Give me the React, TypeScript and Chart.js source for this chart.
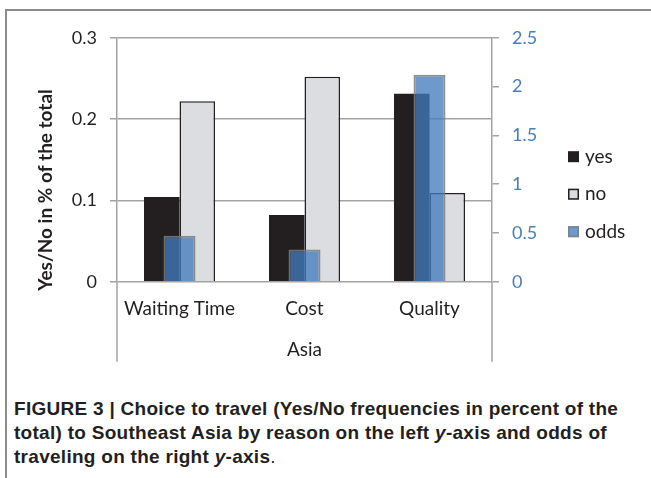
import { useEffect, useRef } from 'react';
import { Chart, registerables } from 'chart.js';

Chart.register(...registerables);

// Reasons for travelling to Southeast Asia
const categories = ['Waiting Time', 'Cost', 'Quality'];
const groupLabel = 'Asia';
// Yes/No frequencies as share of the total (left axis)
const yesShare = [0.104, 0.082, 0.231];
const noShare = [0.222, 0.252, 0.109];
// Odds of travelling (right axis)
const oddsValues = [0.47, 0.33, 2.12];
const leftTicks = [0, 0.1, 0.2, 0.3];
const rightTicks = [0, 0.5, 1, 1.5, 2, 2.5];
const seriesNames = ['yes', 'no', 'odds'];
const yTitle = 'Yes/No in % of the total';
const captionLines = [
  'FIGURE 3 | Choice to travel (Yes/No frequencies in percent of the',
  'total) to Southeast Asia by reason on the left ',
  'traveling on the right ',
];

const FONT = "Lato, 'Open Sans', sans-serif";
const GRID = '#a3a3a3';
const TEXT = '#231f20';
const BLUE_TEXT = '#4a7ebb';

const fmt = (v: number | string) => String(+(+v).toFixed(1));

// Legend, axis title, group label and the long outer axis lines
const decorations = {
  id: 'decorations',
  afterDraw(chart: any) {
    const { ctx, chartArea } = chart;
    const { left, right, top, bottom } = chartArea;
    ctx.save();

    // outer axis lines running down past the category labels
    ctx.strokeStyle = GRID;
    ctx.lineWidth = 1.5;
    ctx.beginPath();
    ctx.moveTo(left, bottom);
    ctx.lineTo(left, bottom + 80);
    ctx.moveTo(right, bottom);
    ctx.lineTo(right, bottom + 80);
    ctx.stroke();

    // group label
    ctx.fillStyle = TEXT;
    ctx.font = `19px ${FONT}`;
    ctx.textAlign = 'center';
    ctx.textBaseline = 'middle';
    ctx.fillText(groupLabel, (left + right) / 2, bottom + 68);

    // rotated left axis title
    ctx.save();
    ctx.translate(46, 190);
    ctx.rotate(-Math.PI / 2);
    ctx.font = `bold 19px ${FONT}`;
    ctx.fillText(yTitle, 0, 0);
    ctx.restore();

    // legend
    const lx = right + 76;
    const ly0 = top + 119;
    chart.data.datasets.forEach((ds: any, i: number) => {
      const cy = ly0 + i * 37.5;
      const s = 11;
      ctx.fillStyle = '#ffffff';
      ctx.fillRect(lx, cy - s / 2, s, s);
      ctx.fillStyle = ds.backgroundColor;
      ctx.fillRect(lx, cy - s / 2, s, s);
      if (ds.borderWidth) {
        ctx.strokeStyle = ds.borderColor;
        ctx.lineWidth = 1.5;
        ctx.strokeRect(lx + 0.75, cy - s / 2 + 0.75, s - 1.5, s - 1.5);
      }
      ctx.fillStyle = TEXT;
      ctx.font = `19px ${FONT}`;
      ctx.textAlign = 'left';
      ctx.textBaseline = 'middle';
      ctx.fillText(ds.label, lx + 17, cy);
    });
    ctx.restore();
  },
};

function ChartCanvas() {
  const ref = useRef<HTMLCanvasElement>(null);
  useEffect(() => {
    if (!ref.current) return;
    const chart = new Chart(ref.current, {
      type: 'bar',
      data: {
        labels: categories,
        datasets: [
          {
            label: seriesNames[0],
            data: yesShare,
            backgroundColor: '#231f20',
            borderWidth: 0,
            yAxisID: 'y',
            categoryPercentage: 0.568,
            barPercentage: 1,
            order: 1,
          },
          {
            label: seriesNames[1],
            data: noShare,
            backgroundColor: '#dcdde0',
            borderColor: '#231f20',
            borderWidth: 1.5,
            yAxisID: 'y',
            categoryPercentage: 0.568,
            barPercentage: 1,
            order: 2,
          },
          {
            // odds sit centred over each category, overlapping yes/no
            label: seriesNames[2],
            data: oddsValues,
            backgroundColor: 'rgba(65,122,188,0.77)',
            borderColor: 'rgba(125,125,125,0.85)',
            borderWidth: 2,
            yAxisID: 'y1',
            grouped: false,
            categoryPercentage: 1,
            barPercentage: 0.256,
            order: 0,
          },
        ],
      },
      options: {
        responsive: false,
        animation: false,
        devicePixelRatio: 1,
        layout: { padding: { top: 37.7, left: 0, right: 0, bottom: 0 } },
        plugins: { legend: { display: false }, tooltip: { enabled: false } },
        scales: {
          x: {
            type: 'category',
            offset: true,
            grid: { display: false, drawTicks: false },
            border: { display: false },
            ticks: { color: TEXT, font: { family: FONT, size: 19 }, padding: 16, maxRotation: 0 },
            afterFit: (s: any) => { s.height = 98.3; },
          },
          y: {
            position: 'left',
            min: leftTicks[0],
            max: leftTicks[leftTicks.length - 1],
            ticks: {
              stepSize: leftTicks[1] - leftTicks[0],
              color: TEXT,
              font: { family: FONT, size: 18 },
              padding: 13,
              callback: (v: any) => fmt(v),
            },
            grid: { color: GRID, lineWidth: 1.5, tickLength: 7 },
            border: { display: true, color: GRID, width: 1.5 },
            afterFit: (s: any) => { s.width = 117; },
          },
          y1: {
            position: 'right',
            min: rightTicks[0],
            max: rightTicks[rightTicks.length - 1],
            ticks: {
              stepSize: rightTicks[1] - rightTicks[0],
              color: BLUE_TEXT,
              font: { family: FONT, size: 18 },
              padding: 13,
              callback: (v: any) => fmt(v),
            },
            grid: { drawOnChartArea: false, color: GRID, lineWidth: 1.5, tickLength: 7 },
            border: { display: true, color: GRID, width: 1.5 },
            afterFit: (s: any) => { s.width = 159; },
          },
        },
      },
      plugins: [decorations],
    } as any);
    return () => chart.destroy();
  }, []);
  return (
    <canvas
      ref={ref}
      width={651}
      height={380}
      style={{ position: 'absolute', left: 0, top: 0, width: 651, height: 380, display: 'block' }}
    />
  );
}

export default function App() {
  const capStyle: any = {
    position: 'absolute',
    left: 14,
    top: 397,
    fontFamily: "'Liberation Sans', Arial, sans-serif",
    fontWeight: 'bold',
    fontSize: 19,
    letterSpacing: '0.28px',
    lineHeight: '24px',
    color: TEXT,
    whiteSpace: 'nowrap',
  };
  return (
    <div
      style={{
        position: 'absolute',
        left: 0,
        top: 0,
        width: 651,
        height: 478,
        background: '#ffffff',
        overflow: 'hidden',
      }}
    >
      <div
        style={{
          position: 'absolute',
          left: 5,
          top: 9,
          width: 700,
          height: 520,
          borderTop: '2px solid #8c8c8c',
          borderLeft: '2px solid #8c8c8c',
        }}
      />
      <ChartCanvas />
      <div style={capStyle}>
        <div>{captionLines[0]}</div>
        <div>
          {captionLines[1]}
          <i>y</i>-axis and odds of
        </div>
        <div>
          {captionLines[2]}
          <i>y</i>-axis<span style={{ fontWeight: 'normal' }}>.</span>
        </div>
      </div>
    </div>
  );
}
